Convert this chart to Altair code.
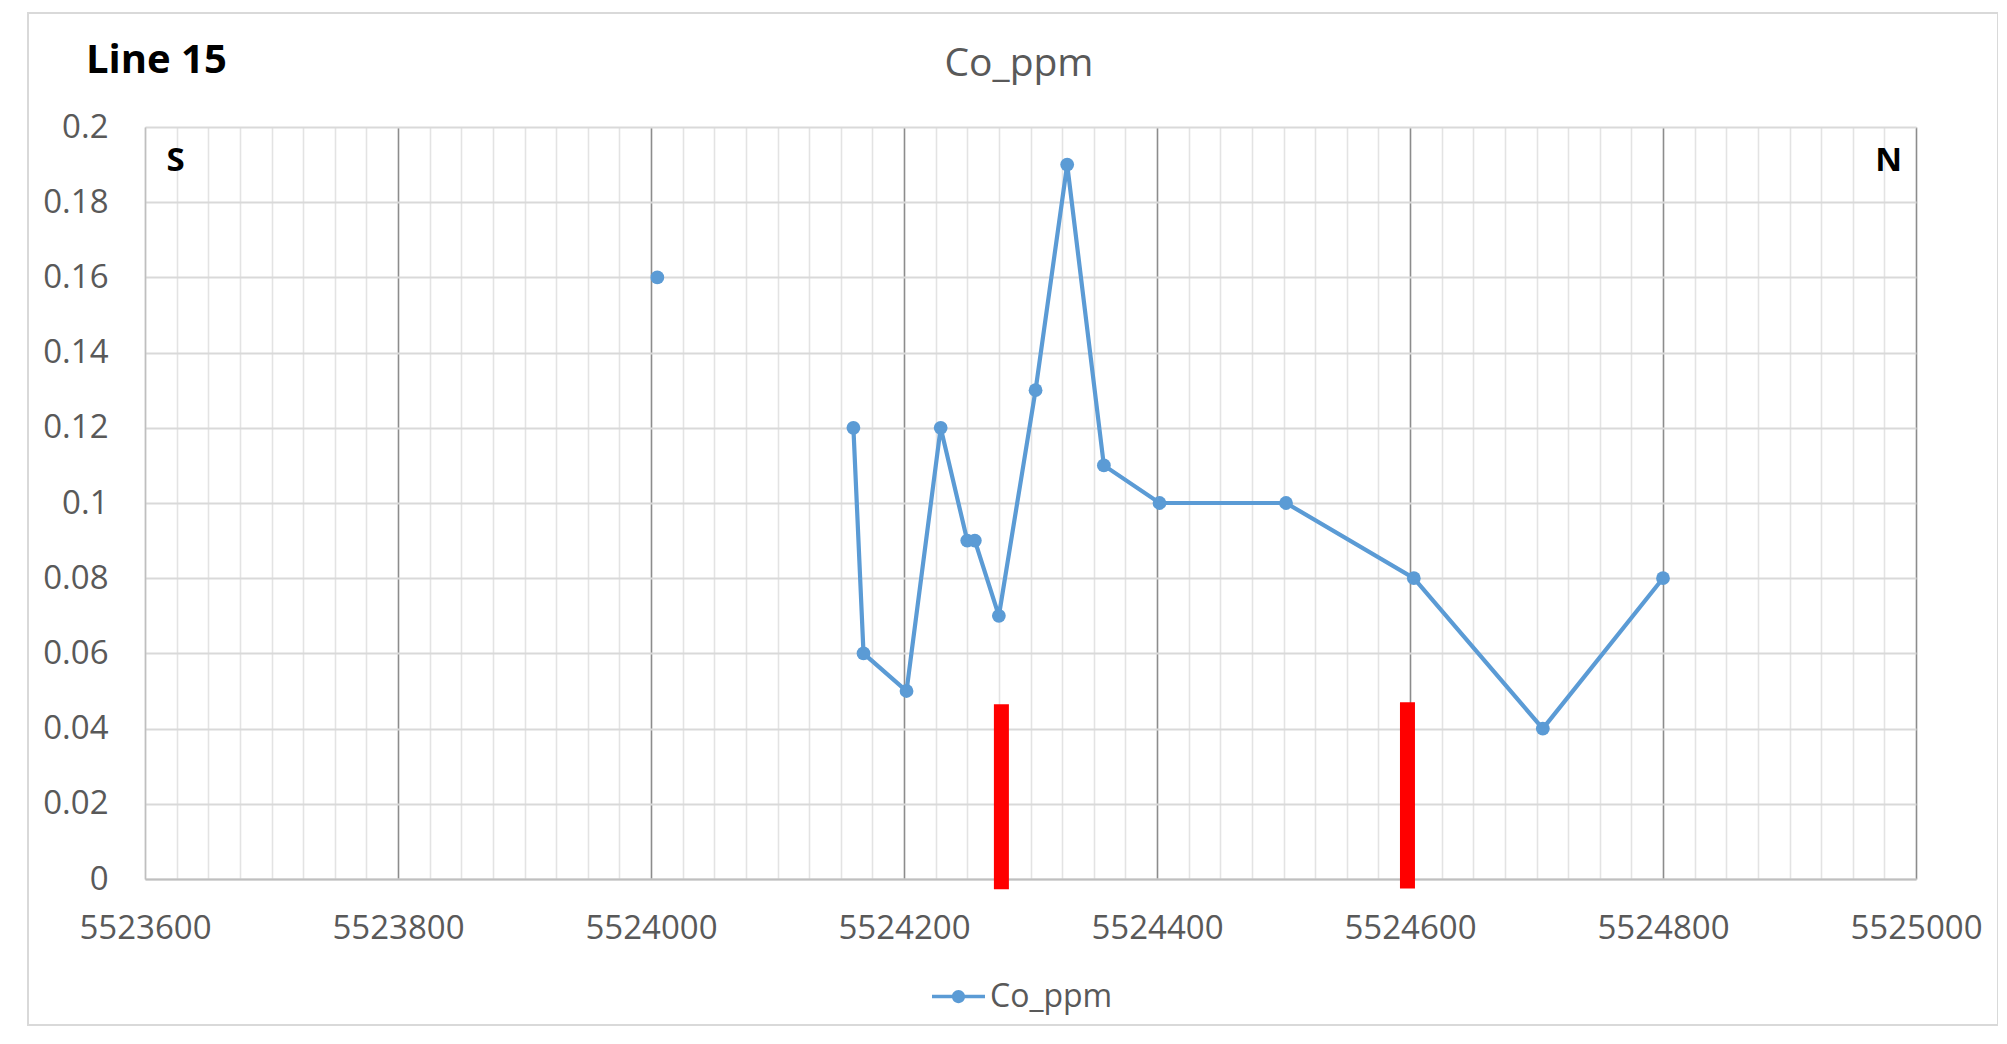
import altair as alt
import pandas as pd

# ---- data ----
easting = [5524005, 5524160, 5524168, 5524202, 5524229, 5524250, 5524256, 5524275,
           5524304, 5524329, 5524358, 5524402, 5524502, 5524603, 5524705, 5524800]
co_ppm = [0.16, 0.12, 0.06, 0.05, 0.12, 0.09, 0.09, 0.07,
          0.13, 0.19, 0.11, 0.10, 0.10, 0.08, 0.04, 0.08]
segment = [0, 1, 1, 1, 1, 1, 1, 1, 1, 1, 1, 1, 1, 1, 1, 1]
series_name = "Co_ppm"

bar_easting = [5524277, 5524598]
bar_top = [0.0465, 0.047]
bar_base = [-0.0027, -0.0025]

x_ticks = list(range(5523600, 5525001, 25))
y_ticks = [0, 0.02, 0.04, 0.06, 0.08, 0.1, 0.12, 0.14, 0.16, 0.18, 0.2]

south_label, south_x, south_y = "S", 5523617, 0.1883
north_label, north_x, north_y = "N", 5524989, 0.1883

FONT = "Open Sans"
LABEL_COLOR = "#595959"
LINE_COLOR = "#5B9BD5"

W, H = 1771, 752

df = pd.DataFrame({"easting": easting, "co": co_ppm, "seg": segment,
                   "series": [series_name] * len(easting)})
bars = pd.DataFrame({"x": bar_easting, "y": bar_base, "y2": bar_top})

x_scale = alt.Scale(domain=[5523600, 5525000], nice=False, zero=False)
y_scale = alt.Scale(domain=[0, 0.2], nice=False)

x_axis = alt.Axis(
    values=x_ticks, format="d", title=None,
    labelExpr="datum.value % 200 === 0 ? datum.label : ''",
    labelOverlap=False, labelFlush=False, labelBound=False,
    labelFontSize=33, labelFont=FONT, labelColor=LABEL_COLOR,
    labelPadding=33, ticks=False, grid=True,
    gridColor={"condition": {"test": "datum.value % 200 === 0 && datum.value > 5523600",
                             "value": "#8C8C8C"}, "value": "#E3E3E3"},
    gridWidth=1.6, domainColor="#BFBFBF", domainWidth=2,
)
y_axis = alt.Axis(
    values=y_ticks, format="~g", title=None, labelFontSize=33, labelFont=FONT,
    labelColor=LABEL_COLOR, labelPadding=37, ticks=False, grid=True,
    labelFlush=False,
    gridColor="#D9D9D9", gridWidth=2, domainColor="#BFBFBF", domainWidth=1.6,
)

legend_symbol = ("M-1,-0.07L1,-0.07L1,0.07L-1,0.07Z "
                 "M0.25,0A0.25,0.25,0,1,1,-0.25,0A0.25,0.25,0,1,1,0.25,0Z")

frame = alt.Chart(pd.DataFrame({"k": [0]})).mark_rect(
    fill=None, stroke="#D9D9D9", strokeWidth=2
).encode(x=alt.value(-117), x2=alt.value(1853), y=alt.value(-114), y2=alt.value(898))

line = alt.Chart(df).mark_line(color=LINE_COLOR, strokeWidth=4.2).encode(
    x=alt.X("easting:Q", scale=x_scale, axis=x_axis),
    y=alt.Y("co:Q", scale=y_scale, axis=y_axis),
    detail="seg:N",
)

points = alt.Chart(df).mark_point(filled=True, opacity=1, size=190).encode(
    x=alt.X("easting:Q", scale=x_scale, axis=x_axis),
    y=alt.Y("co:Q", scale=y_scale, axis=y_axis),
    color=alt.Color("series:N", scale=alt.Scale(domain=[series_name], range=[LINE_COLOR]),
                    legend=alt.Legend(title=None, orient="none", legendX=787, legendY=843,
                                      padding=0, symbolType=legend_symbol, symbolSize=2809,
                                      symbolStrokeWidth=0, symbolFillColor=LINE_COLOR,
                                      labelFontSize=32, labelFont=FONT,
                                      labelColor=LABEL_COLOR, labelOffset=5)),
)

red = alt.Chart(bars).mark_rule(color="#FF0000", strokeWidth=15).encode(
    x=alt.X("x:Q", scale=x_scale, axis=x_axis),
    y=alt.Y("y:Q", scale=y_scale, axis=y_axis),
    y2="y2:Q",
)


def dir_layer(label, xv, yv, align):
    d = pd.DataFrame({"x": [xv], "y": [yv], "t": [label]})
    return alt.Chart(d).mark_text(
        font=FONT, fontSize=33, fontWeight="bold", color="black",
        baseline="alphabetic", align=align
    ).encode(
        x=alt.X("x:Q", scale=x_scale, axis=x_axis),
        y=alt.Y("y:Q", scale=y_scale, axis=y_axis),
        text="t:N",
    )


south = dir_layer(south_label, south_x, south_y, "left")
north = dir_layer(north_label, north_x, north_y, "right")

title_text = alt.Chart(pd.DataFrame({"t": [series_name]})).mark_text(
    font=FONT, fontSize=39, color=LABEL_COLOR, align="center", baseline="alphabetic"
).encode(x=alt.value(874), y=alt.value(-51), text="t:N")

line_label = alt.Chart(pd.DataFrame({"t": ["Line 15"]})).mark_text(
    font=FONT, fontSize=40, fontWeight="bold", color="black", align="left",
    baseline="alphabetic"
).encode(x=alt.value(-59), y=alt.value(-54), text="t:N")

chart = alt.layer(frame, red, line, points, south, north, title_text, line_label).properties(
    width=W, height=H,
    background="white",
    autosize=alt.AutoSizeParams(type="none"),
    padding={"left": 137, "top": 119, "right": 82, "bottom": 150},
).configure_view(stroke=None)

chart.save("out.html", embed_options={"renderer": "svg", "actions": False})
